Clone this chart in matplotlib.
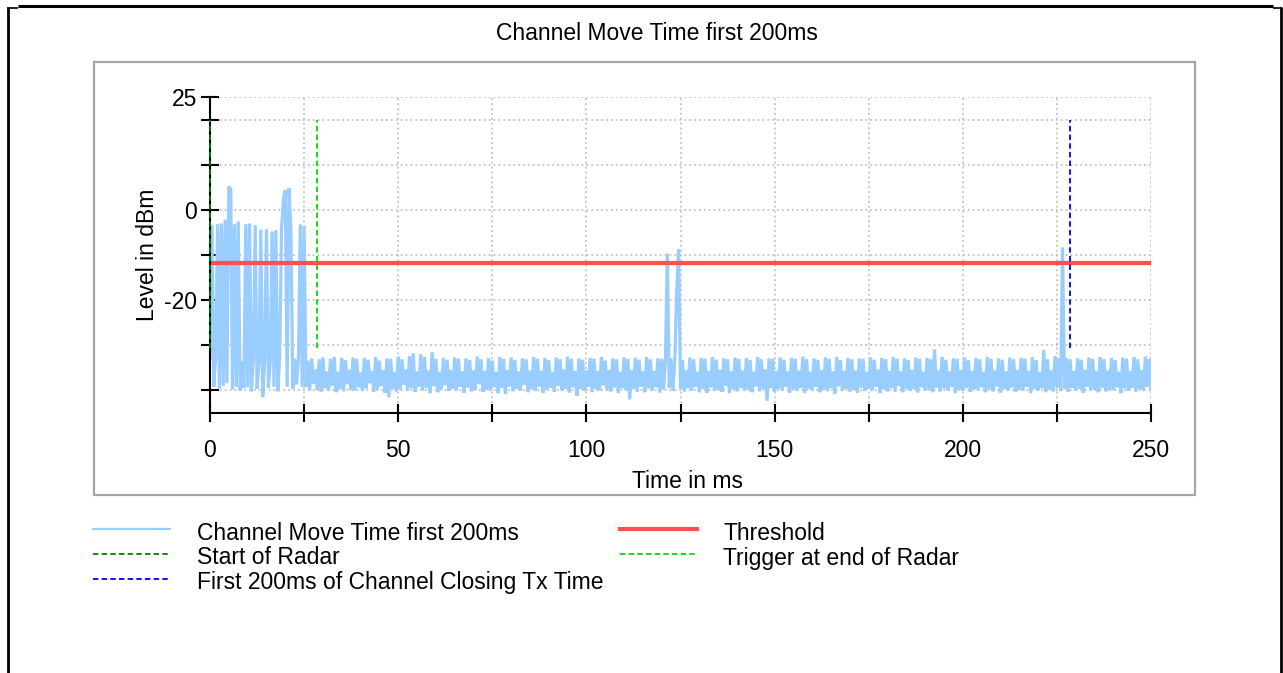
import numpy as np
import matplotlib
matplotlib.use("Agg")
import matplotlib.pyplot as plt
from matplotlib.lines import Line2D
from matplotlib.patches import Rectangle

plt.rcParams['font.family'] = ['Liberation Sans', 'DejaVu Sans']

# ---- data -----------------------------------------------------------------
sample_step_ms = 0.5

# radar burst section, 0 .. 25 ms (dBm)
burst_dbm = [
    -33.0, -3.4, -39.2, -32.5, -3.2, -39.6, -3.0, -39.0, -2.2, -38.4,
    5.2, 4.6, -39.8, -3.2, -39.2, -2.6, -40.0, -33.5, -39.4, -3.2,
    -39.3, -3.0, -40.2, -33.0, -3.4, -39.6, -34.0, -4.4, -41.5, -33.2,
    -4.3, -39.4, -34.0, -4.8, -39.2, -4.5, -40.2, -33.0, -4.3, 2.4,
    4.4, -39.2, 4.8, -5.0, -39.6, -33.0, -38.7, -32.8, -3.2, -39.2,
    -3.6,
]

# remainder of the capture, 25.5 .. 250 ms (dBm)
after_dbm = [
    -39.2, -33.4, -40.0, -32.9, -38.5, -35.4, -39.8, -33.1, -40.3, -32.7,
    -39.4, -35.8, -40.1, -33.0, -39.0, -32.6, -40.4, -35.9, -39.7, -32.8,
    -40.2, -33.3, -38.6, -35.5, -39.9, -32.7, -40.0, -33.0, -39.3, -36.0,
    -40.1, -32.8, -39.6, -33.2, -38.4, -35.7, -40.3, -32.6, -39.8, -33.4,
    -39.0, -35.6, -40.5, -32.9, -41.5, -33.0, -39.6, -35.9, -40.2, -32.5,
    -39.9, -33.1, -38.7, -35.4, -40.0, -32.4, -39.5, -31.8, -40.3, -35.8,
    -39.2, -32.0, -40.0, -32.6, -39.4, -35.6, -40.6, -31.5, -39.1, -33.0,
    -40.4, -35.9, -39.7, -32.8, -38.9, -33.2, -40.1, -35.5, -39.6, -32.7,
    -40.0, -33.0, -39.2, -35.8, -40.5, -32.9, -39.4, -33.3, -40.2, -35.6,
    -39.8, -32.5, -38.6, -33.1, -40.3, -35.7, -39.9, -32.8, -40.0, -33.4,
    -39.3, -35.9, -40.6, -32.6, -39.5, -33.0, -40.8, -35.5, -39.1, -32.7,
    -40.2, -33.2, -39.6, -35.8, -40.0, -32.9, -38.8, -33.1, -40.4, -35.6,
    -39.7, -32.6, -40.1, -33.0, -39.2, -35.7, -40.5, -32.8, -39.9, -33.3,
    -39.4, -35.9, -40.3, -32.7, -39.0, -33.1, -40.0, -35.4, -39.6, -32.5,
    -40.5, -33.0, -39.3, -35.8, -41.2, -32.9, -39.7, -33.2, -40.1, -35.6,
    -39.2, -32.8, -40.4, -33.0, -39.6, -35.7, -40.0, -32.6, -38.9, -33.4,
    -39.8, -35.5, -40.2, -32.9, -39.4, -33.1, -40.6, -35.9, -39.5, -32.7,
    -40.0, -33.0, -42.0, -35.6, -39.7, -32.8, -40.3, -33.2, -39.1, -35.8,
    -40.4, -32.6, -39.6, -33.1, -40.0, -35.7, -39.3, -32.9, -40.5, -33.0,
    -39.8, -33.2, -9.7, -39.4, -32.9, -40.1, -33.0, -17.8, -8.8, -39.6,
    -33.3, -40.2, -35.6, -39.5, -32.7, -40.0, -33.1, -39.2, -35.9, -40.4,
    -32.8, -39.7, -33.0, -40.5, -35.7, -39.3, -32.6, -40.1, -33.2, -39.8,
    -35.5, -40.3, -32.9, -39.0, -33.1, -40.6, -35.8, -39.6, -32.7, -40.2,
    -33.0, -39.4, -35.6, -40.0, -32.8, -39.9, -33.3, -40.4, -35.9, -39.1,
    -32.6, -40.2, -33.1, -39.7, -35.4, -42.3, -32.9, -39.5, -33.0, -40.3,
    -35.7, -39.6, -32.7, -40.0, -33.2, -39.2, -35.8, -40.5, -32.8, -39.8,
    -33.0, -40.1, -35.6, -39.4, -32.5, -40.6, -33.1, -39.7, -35.9, -40.0,
    -32.9, -39.3, -33.2, -40.4, -35.5, -39.8, -32.7, -40.2, -33.0, -39.5,
    -35.8, -40.7, -32.6, -39.1, -33.3, -40.0, -35.7, -39.6, -32.8, -40.3,
    -33.1, -39.9, -35.6, -40.5, -32.9, -39.4, -33.0, -40.1, -35.9, -39.7,
    -32.7, -40.0, -33.2, -39.2, -35.4, -40.6, -32.8, -39.8, -33.1, -40.2,
    -35.7, -39.5, -32.6, -40.3, -33.0, -39.0, -35.8, -40.4, -32.9, -39.7,
    -33.3, -40.1, -35.5, -39.6, -32.7, -40.5, -33.0, -39.3, -35.9, -40.0,
    -32.8, -39.9, -33.1, -40.4, -30.9, -39.4, -35.6, -40.2, -32.6, -39.6,
    -33.2, -40.0, -35.8, -39.2, -32.9, -40.6, -33.0, -39.8, -35.5, -40.1,
    -32.7, -39.5, -33.3, -40.3, -35.7, -39.7, -32.8, -40.0, -33.1, -39.3,
    -35.9, -40.4, -32.6, -39.8, -33.0, -40.2, -35.6, -39.1, -32.9, -40.5,
    -33.2, -39.6, -35.8, -40.0, -32.7, -39.4, -33.1, -40.3, -35.5, -39.9,
    -32.8, -40.1, -33.0, -39.2, -35.7, -40.6, -32.6, -39.7, -33.3, -40.0,
    -35.9, -39.5, -31.0, -40.4, -33.1, -39.8, -35.6, -40.2, -32.4, -39.3,
    -33.0, -40.0, -8.3, -39.6, -32.8, -40.3, -33.1, -39.4, -35.7, -40.1,
    -32.9, -39.7, -33.2, -40.5, -35.5, -39.2, -32.7, -40.0, -33.0, -39.8,
    -35.8, -40.4, -32.6, -39.5, -33.1, -40.2, -35.6, -39.9, -32.8, -40.0,
    -33.3, -39.3, -35.9, -40.6, -32.7, -39.6, -33.0, -40.1, -35.7, -39.4,
    -32.6, -40.3, -33.1, -39.7, -35.5, -40.0, -32.5, -39.2, -33.0, -39.8,
]

threshold_dbm = -11.8
start_of_radar_ms = 0.0
trigger_ms = 28.5
closing_ms = 228.5
marker_span_dbm = (-30.5, 20.0)

x_ticks = [0, 25, 50, 75, 100, 125, 150, 175, 200, 225, 250]
x_tick_labels = ['0', '', '50', '', '100', '', '150', '', '200', '', '250']
y_ticks = [25, 20, 10, 0, -10, -20, -30, -40]
y_tick_labels = ['25', '', '', '0', '', '-20', '', '']

title_text = 'Channel Move Time first 200ms'
legend_labels = [
    'Channel Move Time first 200ms',
    'Start of Radar',
    'First 200ms of Channel Closing Tx Time',
    'Threshold',
    'Trigger at end of Radar',
]

# ---- styling ----------------------------------------------------------------
W, H = 1283, 673
TRACE = '#99ccff'
RED = '#ff4f4f'
DKGREEN = '#008000'
LTGREEN = '#00dd00'
BLUE = '#0000ff'
FS = 16.5


def fx(px):
    return px / W


def fy(py):
    return 1 - py / H


fig = plt.figure(figsize=(W / 100, H / 100), dpi=100)
fig.patch.set_facecolor('white')

# page frame
frame_kw = dict(transform=fig.transFigure, color='black', solid_capstyle='butt')
fig.add_artist(Line2D([fx(18), fx(1273)], [fy(5.5), fy(5.5)], lw=2.2, **frame_kw))
fig.add_artist(Line2D([fx(7), fx(18)], [fy(7.5), fy(7.5)], lw=1.2, **frame_kw))
fig.add_artist(Line2D([fx(1273), fx(1282)], [fy(7.5), fy(7.5)], lw=1.2, **frame_kw))
fig.add_artist(Line2D([fx(8), fx(8)], [fy(7), fy(673)], lw=2.0, **frame_kw))
fig.add_artist(Line2D([fx(1281), fx(1281)], [fy(7), fy(673)], lw=2.0, **frame_kw))

# chart panel
fig.add_artist(Rectangle((fx(94), fy(495)), fx(1195) - fx(94), fy(62) - fy(495),
                         transform=fig.transFigure, fill=False,
                         edgecolor='#a6a6a6', lw=1.6))

fig.text(fx(657), fy(33), title_text, ha='center', va='center', fontsize=FS)

ax = fig.add_axes([fx(210), fy(413), fx(1151) - fx(210), fy(97) - fy(413)])
ax.set_xlim(0, 250)
ax.set_ylim(-45, 25)

level = np.array(burst_dbm + after_dbm)
t_ms = np.arange(len(level)) * sample_step_ms

ax.plot(t_ms, level, color=TRACE, lw=2.3, zorder=2, solid_joinstyle='miter')
ax.plot([0, 250], [threshold_dbm, threshold_dbm], color=RED, lw=3.0, zorder=3)

dash = (0, (3.0, 1.8))
ax.plot([start_of_radar_ms, start_of_radar_ms], marker_span_dbm, color=DKGREEN,
        lw=1.3, ls=dash, zorder=6, clip_on=False)
ax.plot([trigger_ms, trigger_ms], marker_span_dbm, color=LTGREEN, lw=1.3,
        ls=dash, zorder=4)
ax.plot([closing_ms, closing_ms], marker_span_dbm, color=BLUE, lw=1.3,
        ls=dash, zorder=4)

ax.set_xticks(x_ticks)
ax.set_xticklabels(x_tick_labels)
ax.set_yticks(y_ticks)
ax.set_yticklabels(y_tick_labels)
ax.tick_params(axis='both', direction='inout', length=13, width=1.5,
               labelsize=FS, colors='black')
ax.tick_params(axis='x', pad=12)
ax.tick_params(axis='y', pad=3)

ax.grid(True, color='#b8b8b8', linestyle=(0, (1.2, 2.0)), lw=1.1, zorder=0)
ax.set_axisbelow(True)
for side in ('top', 'right'):
    ax.spines[side].set_visible(False)
for side in ('left', 'bottom'):
    ax.spines[side].set_linewidth(1.5)
    ax.spines[side].set_zorder(5)

ax.set_xlabel('Time in ms', fontsize=FS, va='center')
ax.xaxis.set_label_coords((688 - 210) / 941, -(481 - 413) / 316)
ax.set_ylabel('Level in dBm', fontsize=FS, va='center', ha='center')
ax.yaxis.set_label_coords(-(210 - 147) / 941, (413 - 255) / 316)

# legend, two columns below the panel
handles = [
    dict(color=TRACE, lw=1.6, ls='-'),
    dict(color=DKGREEN, lw=1.3, ls=dash),
    dict(color=BLUE, lw=1.3, ls=dash),
    dict(color=RED, lw=3.0, ls='-'),
    dict(color=LTGREEN, lw=1.3, ls=dash),
]
rows = [(93, 170, 197, 529, 533), (93, 170, 197, 554, 558), (93, 170, 197, 579, 583),
        (620, 697, 723, 529, 533), (620, 697, 723, 554, 558)]
for label, style, (x0, x1, xt, yl, yt) in zip(legend_labels, handles, rows):
    fig.add_artist(Line2D([fx(x0), fx(x1)], [fy(yl), fy(yl)],
                          transform=fig.transFigure, **style))
    fig.text(fx(xt), fy(yt), label, ha='left', va='center', fontsize=FS)

fig.savefig('out.png', dpi=100)
